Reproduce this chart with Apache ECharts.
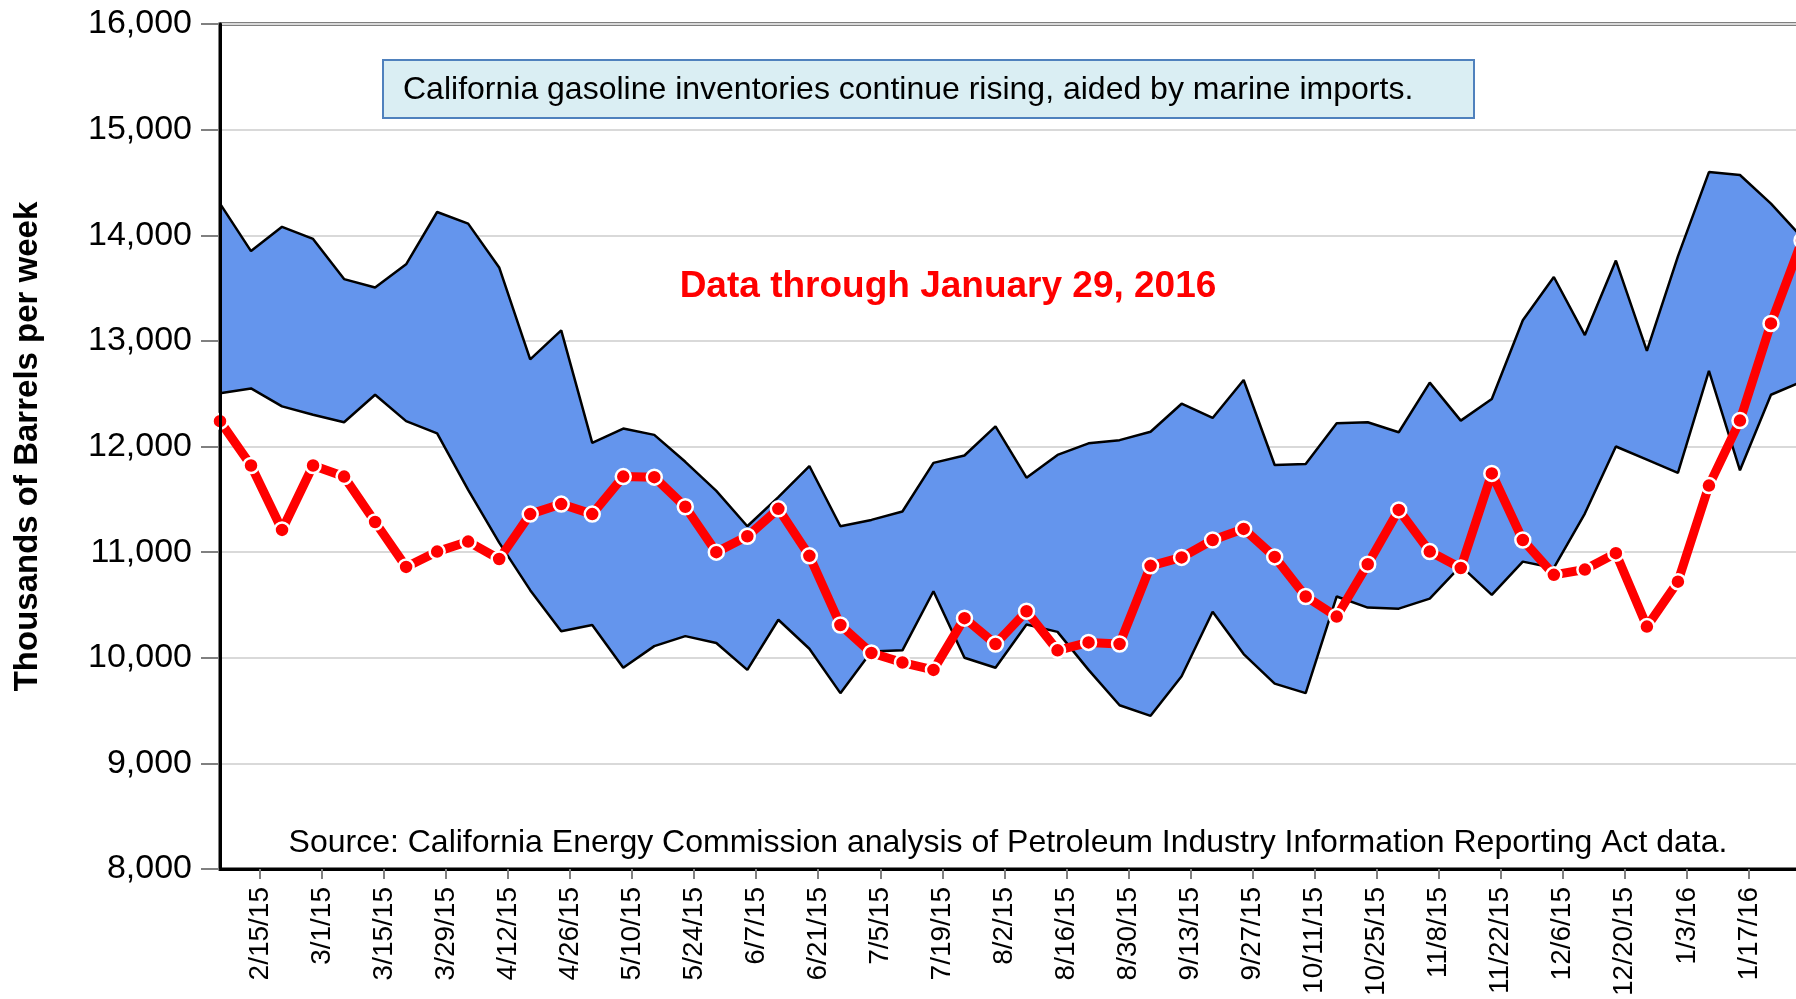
<!DOCTYPE html>
<html>
<head>
<meta charset="utf-8">
<script src="https://cdn.jsdelivr.net/npm/echarts@6/dist/echarts.min.js"></script>
<style>
  html, body { margin: 0; padding: 0; background: #fff; }
  #chart { width: 1796px; height: 999px; }
</style>
</head>
<body>
<div id="chart"></div>
<script>
// weekly data points (Fridays)
var weekEnding = [
  '2015-02-06','2015-02-13','2015-02-20','2015-02-27','2015-03-06','2015-03-13','2015-03-20','2015-03-27',
  '2015-04-03','2015-04-10','2015-04-17','2015-04-24','2015-05-01','2015-05-08','2015-05-15','2015-05-22',
  '2015-05-29','2015-06-05','2015-06-12','2015-06-19','2015-06-26','2015-07-03','2015-07-10','2015-07-17',
  '2015-07-24','2015-07-31','2015-08-07','2015-08-14','2015-08-21','2015-08-28','2015-09-04','2015-09-11',
  '2015-09-18','2015-09-25','2015-10-02','2015-10-09','2015-10-16','2015-10-23','2015-10-30','2015-11-06',
  '2015-11-13','2015-11-20','2015-11-27','2015-12-04','2015-12-11','2015-12-18','2015-12-25','2016-01-01',
  '2016-01-08','2016-01-15','2016-01-22','2016-01-29'
];

// current inventories (red line)
var inventory = [
  12240, 11820, 11210, 11820, 11715, 11285, 10860, 11005, 11100, 10935, 11360, 11455, 11360,
  11715, 11710, 11430, 11000, 11150, 11410, 10965, 10310, 10045, 9955, 9885, 10375, 10130,
  10440, 10070, 10145, 10130, 10870, 10950, 11115, 11220, 10955, 10580, 10390, 10885, 11400,
  11005, 10850, 11745, 11115, 10785, 10835, 10990, 10295, 10720, 11630, 12245, 13165, 13950
];

// range of prior years (blue band)
var rangeHigh = [
  14300, 13850, 14080, 13965, 13585, 13505, 13725, 14220, 14110, 13695, 12825, 13100, 12035,
  12170, 12110, 11855, 11580, 11245, 11520, 11815, 11245, 11305, 11385, 11845, 11915, 12190,
  11705, 11920, 12030, 12060, 12140, 12405, 12270, 12630, 11825, 11835, 12220, 12230, 12135,
  12605, 12245, 12450, 13195, 13605, 13055, 13760, 12905, 13800, 14598, 14570, 14300, 13980
];
var rangeLow = [
  12505, 12550, 12380, 12300, 12230, 12490, 12240, 12125, 11590, 11090, 10640, 10250, 10310,
  9905, 10110, 10205, 10140, 9885, 10360, 10085, 9665, 10060, 10070, 10630, 10000, 9905,
  10315, 10245, 9885, 9550, 9450, 9825, 10435, 10035, 9755, 9665, 10580, 10475, 10465,
  10560, 10870, 10595, 10910, 10850, 11365, 12000, 11875, 11750, 12715, 11775, 12490, 12615
];

var tickLabels = [
  '2/15/15','3/1/15','3/15/15','3/29/15','4/12/15','4/26/15','5/10/15','5/24/15','6/7/15',
  '6/21/15','7/5/15','7/19/15','8/2/15','8/16/15','8/30/15','9/13/15','9/27/15','10/11/15',
  '10/25/15','11/8/15','11/22/15','12/6/15','12/20/15','1/3/16','1/17/16'
];

var FONT = '"Liberation Sans", Arial, sans-serif';

function dayNum(iso) {
  var p = iso.split('-');
  return Date.UTC(+p[0], +p[1] - 1, +p[2]) / 864e5;
}
function labelDay(s) {
  var p = s.split('/');
  return Date.UTC(2000 + +p[2], +p[0] - 1, +p[1]) / 864e5;
}

var xs = weekEnding.map(dayNum);
var tickDays = tickLabels.map(labelDay);
var labelByDay = {};
tickDays.forEach(function (d, i) { labelByDay[d] = tickLabels[i]; });

var highData = xs.map(function (x, i) { return [x, rangeHigh[i]]; });
var lowData = xs.map(function (x, i) { return [x, rangeLow[i]]; });
var invData = xs.map(function (x, i) { return [x, inventory[i]]; });

var chart = echarts.init(document.getElementById('chart'));

chart.setOption({
  animation: false,
  backgroundColor: '#fff',
  textStyle: { fontFamily: FONT },
  grid: {
    left: 220, top: 24, width: 1582, bottom: 130,
    outerBoundsMode: 'none',
    show: true, borderColor: '#000', borderWidth: 3, backgroundColor: 'transparent'
  },
  xAxis: {
    type: 'value',
    min: xs[0],
    max: xs[xs.length - 1],
    axisLine: { show: true, lineStyle: { color: '#000', width: 3 } },
    axisTick: { show: true, customValues: tickDays, length: 10, lineStyle: { color: '#808080', width: 2 } },
    axisLabel: {
      customValues: tickDays,
      rotate: 90,
      margin: 18,
      fontSize: 28,
      color: '#000',
      fontFamily: FONT,
      formatter: function (v) { return labelByDay[v] || ''; }
    },
    splitLine: { show: false }
  },
  yAxis: [{
    type: 'value',
    min: 8000,
    max: 16000,
    interval: 1000,
    axisLine: { show: false },
    axisTick: { show: true, length: 19, lineStyle: { color: '#808080', width: 2 } },
    axisLabel: {
      margin: 28,
      fontSize: 34,
      color: '#000',
      fontFamily: FONT,
      formatter: function (v) { return v.toLocaleString('en-US'); }
    },
    splitLine: { show: true, lineStyle: { color: '#d9d9d9', width: 2 } },
    name: 'Thousands of Barrels per week',
    nameLocation: 'middle',
    nameGap: 176,
    nameTextStyle: { fontSize: 33, fontWeight: 'bold', color: '#000', fontFamily: FONT }
  }, {
    type: 'value',
    min: 8000,
    max: 16000,
    interval: 1000,
    position: 'left',
    z: 10,
    axisLine: { show: true, lineStyle: { color: '#000', width: 3 } },
    axisTick: { show: false },
    axisLabel: { show: false },
    splitLine: { show: false }
  }],
  series: [{
    name: 'range fill',
    type: 'custom',
    z: 2,
    clip: true,
    data: [[xs[0], rangeLow[0]]],
    encode: { x: 0, y: 1 },
    renderItem: function (params, api) {
      var pts = [];
      for (var i = 0; i < xs.length; i++) pts.push(api.coord([xs[i], rangeHigh[i]]));
      for (var j = xs.length - 1; j >= 0; j--) pts.push(api.coord([xs[j], rangeLow[j]]));
      return { type: 'polygon', shape: { points: pts }, style: { fill: '#6495ed' } };
    }
  }, {
    name: 'high',
    type: 'line',
    data: highData,
    symbol: 'none',
    z: 3,
    lineStyle: { color: '#000', width: 2.5 }
  }, {
    name: 'low',
    type: 'line',
    data: lowData,
    symbol: 'none',
    z: 3,
    lineStyle: { color: '#000', width: 2.5 }
  }, {
    name: 'inventory',
    type: 'line',
    data: invData,
    z: 5,
    symbol: 'circle',
    symbolSize: 15,
    lineStyle: { color: '#ff0000', width: 9 },
    itemStyle: { color: '#ff0000', borderColor: '#fff', borderWidth: 2.5 }
  }],
  graphic: [{
    type: 'group',
    left: 382,
    top: 59,
    children: [{
      type: 'rect',
      shape: { x: 0, y: 0, width: 1091, height: 58 },
      style: { fill: '#daeef3', stroke: '#4f81bd', lineWidth: 2 }
    }, {
      type: 'text',
      x: 20,
      y: 30,
      style: {
        text: 'California gasoline inventories continue rising, aided by marine imports.',
        font: '32px ' + FONT,
        fill: '#000',
        verticalAlign: 'middle'
      }
    }]
  }, {
    type: 'text',
    x: 948,
    y: 287,
    z: 20,
    style: {
      text: 'Data through January 29, 2016',
      font: 'bold 37px ' + FONT,
      fill: '#ff0000',
      align: 'center',
      verticalAlign: 'middle'
    }
  }, {
    type: 'text',
    x: 1008,
    y: 843,
    z: 20,
    style: {
      text: 'Source: California Energy Commission analysis of Petroleum Industry Information Reporting Act data.',
      font: '32px ' + FONT,
      fill: '#000',
      align: 'center',
      verticalAlign: 'middle'
    }
  }]
});
</script>
</body>
</html>
